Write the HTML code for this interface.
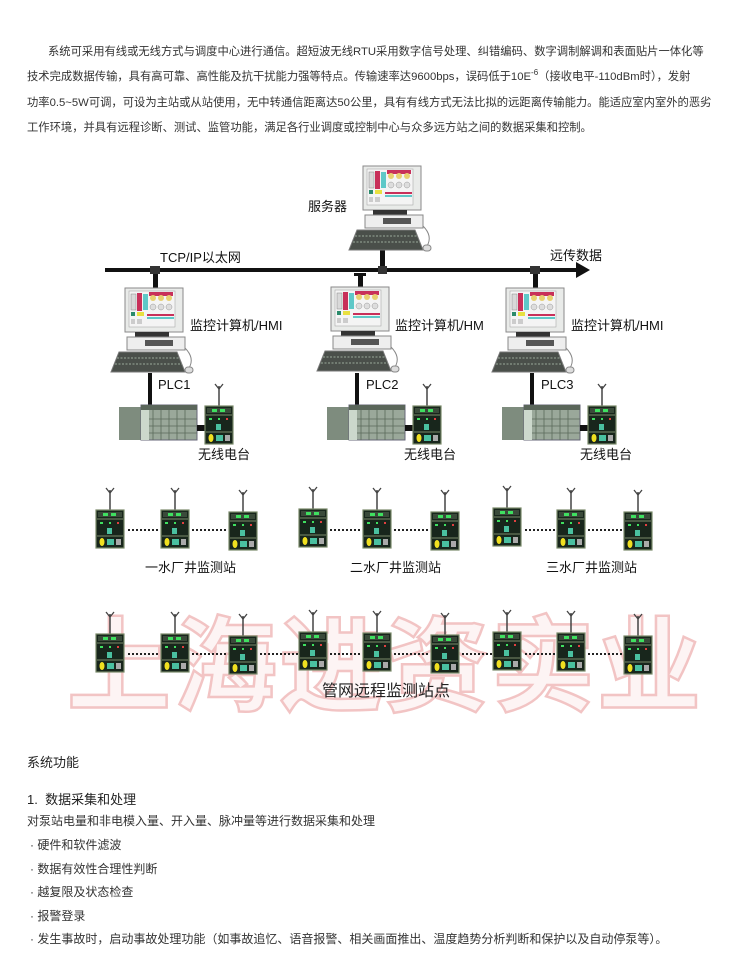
<!DOCTYPE html>
<html><head><meta charset="utf-8">
<style>
body{margin:0;background:#fff;}
#p{position:relative;width:750px;height:975px;overflow:hidden;font-family:"Liberation Sans","Noto Sans CJK SC",sans-serif;color:#222;}
.t{position:absolute;white-space:nowrap;}
.para{font-size:12px;color:#333;}
.top{font-size:11.3px;color:#333;}
.lab{font-size:13px;color:#111;}
</style></head><body><div id="p">
<svg width="750" height="975" style="position:absolute;left:0;top:0">
<defs>
<symbol id="pc" overflow="visible">
 <rect x="0" y="0" width="58" height="44" fill="#e9ebe9" stroke="#8a8a8a"/>
 <rect x="4" y="3" width="46" height="36" fill="#f4f4f4" stroke="#aaa" stroke-width="0.6"/>
 <rect x="6" y="6" width="5" height="16" fill="#d9d9d9" stroke="#888" stroke-width="0.5"/>
 <rect x="12" y="5" width="5" height="18" fill="#c8305a"/>
 <rect x="18" y="6" width="5" height="16" fill="#5ec8c8"/>
 <rect x="24" y="4" width="24" height="4" fill="#c8305a"/>
 <circle cx="28" cy="10" r="3" fill="#e8d070"/><circle cx="36" cy="10" r="3" fill="#e8d070"/><circle cx="44" cy="10" r="3" fill="#e8d070"/>
 <circle cx="28" cy="19" r="3" fill="#ddd" stroke="#999" stroke-width="0.5"/><circle cx="36" cy="19" r="3" fill="#ddd" stroke="#999" stroke-width="0.5"/><circle cx="44" cy="19" r="3" fill="#ddd" stroke="#999" stroke-width="0.5"/>
 <rect x="6" y="24" width="4" height="4" fill="#2a8a6a"/><rect x="12" y="24" width="7" height="4" fill="#e8e040"/>
 <rect x="22" y="26" width="27" height="2" fill="#c8305a"/><rect x="22" y="29" width="27" height="2" fill="#5ec8c8"/>
 <rect x="6" y="31" width="4" height="5" fill="#ccc"/><rect x="12" y="31" width="5" height="5" fill="#ccc"/>
 <rect x="10" y="44" width="34" height="5" fill="#333"/>
 <rect x="2" y="49" width="58" height="13" fill="#eeeeee" stroke="#888"/>
 <rect x="20" y="52" width="28" height="6" fill="#555"/>
 <polygon points="-6,64 52,64 60,84 -14,84" fill="#4a4f4a" stroke="#777"/>
 <line x1="-8" y1="70" x2="54" y2="70" stroke="#9a9" stroke-dasharray="2 1.5"/>
 <line x1="-10" y1="76" x2="57" y2="76" stroke="#9a9" stroke-dasharray="2 1.5"/>
 <path d="M60 60 Q70 70 64 80" fill="none" stroke="#888"/>
 <rect x="60" y="79" width="8" height="6" rx="3" fill="#ddd" stroke="#888"/>
</symbol>
<symbol id="ru" overflow="visible">
 <line x1="14" y1="-20" x2="14" y2="0" stroke="#444" stroke-width="1.5"/>
 <path d="M10 -22 L14 -17 L18 -22" fill="none" stroke="#444" stroke-width="1.3"/>
 <rect x="0" y="0" width="28" height="38" fill="#18261c" stroke="#7a8a6a" stroke-width="1.2"/>
 <rect x="2" y="2" width="24" height="5" fill="#3a4a3a"/>
 <rect x="7" y="3" width="5" height="3" fill="#3fe060"/><rect x="15" y="3" width="5" height="3" fill="#3fe060"/>
 <line x1="1" y1="9" x2="27" y2="9" stroke="#7a8a6a"/>
 <rect x="4" y="12" width="3" height="2" fill="#3fe060"/><rect x="13" y="12" width="2" height="2" fill="#3fe060"/><rect x="21" y="12" width="2" height="2" fill="#e04040"/>
 <rect x="11" y="18" width="5" height="6" fill="#4ac0a0"/>
 <line x1="1" y1="26" x2="27" y2="26" stroke="#7a8a6a"/>
 <ellipse cx="6" cy="32" rx="2.5" ry="4" fill="#f0e020"/>
 <rect x="11" y="29" width="7" height="6" fill="#4ac0a0"/>
 <rect x="20" y="29" width="5" height="6" fill="#aaa"/>
</symbol>
<symbol id="plc" overflow="visible">
 <rect x="0" y="2" width="22" height="33" fill="#7e8c7e"/>
 <rect x="22" y="0" width="56" height="35" fill="#9aa89a" stroke="#667"/>
 <rect x="22" y="4" width="8" height="31" fill="#ccd8cc"/>
 <g stroke="#5a6a5a" stroke-width="0.8">
 <line x1="34" y1="4" x2="34" y2="35"/><line x1="42" y1="4" x2="42" y2="35"/><line x1="50" y1="4" x2="50" y2="35"/><line x1="58" y1="4" x2="58" y2="35"/><line x1="66" y1="4" x2="66" y2="35"/>
 <line x1="30" y1="14" x2="78" y2="14"/><line x1="30" y1="21" x2="78" y2="21"/><line x1="30" y1="28" x2="78" y2="28"/>
 </g>
 <rect x="22" y="0" width="56" height="5" fill="#5a665a"/>
 <rect x="78" y="20" width="8" height="6" fill="#111"/>
</symbol>
</defs>
<!-- watermark -->
<text x="385" y="703" text-anchor="middle" font-family="Noto Sans CJK SC,sans-serif" font-size="104" font-weight="bold" fill="#fdf4f4" stroke="#f2c4c4" stroke-width="2.5" letter-spacing="2">上海进资实业</text>
<!-- bus -->
<line x1="105" y1="270" x2="578" y2="270" stroke="#111" stroke-width="4"/>
<polygon points="576,262 590,270 576,278" fill="#111"/>
<rect x="380" y="248" width="5" height="22" fill="#111"/>
<rect x="378" y="266" width="9" height="8" fill="#333"/>
<rect x="153" y="270" width="5" height="19" fill="#111"/><rect x="150" y="266" width="10" height="8" fill="#333"/>
<rect x="358" y="273" width="5" height="16" fill="#111"/><rect x="354" y="273" width="12" height="3" fill="#111"/>
<rect x="533" y="270" width="5" height="18" fill="#111"/><rect x="530" y="266" width="10" height="8" fill="#333"/>
<!-- computers -->
<use href="#pc" x="363" y="166"/>
<use href="#pc" x="125" y="288"/>
<use href="#pc" x="331" y="287"/>
<use href="#pc" x="506" y="288"/>
<!-- plc lines -->
<rect x="148" y="373" width="4" height="35" fill="#111"/>
<rect x="355" y="373" width="4" height="35" fill="#111"/>
<rect x="530" y="373" width="4" height="35" fill="#111"/>
<use href="#plc" x="119" y="405"/>
<use href="#plc" x="327" y="405"/>
<use href="#plc" x="502" y="405"/>
<use href="#ru" x="205" y="406"/>
<use href="#ru" x="413" y="406"/>
<use href="#ru" x="588" y="406"/>
<!-- rows -->
<g stroke="#222" stroke-width="2" stroke-dasharray="2 2">
<line x1="128" y1="530" x2="160" y2="530"/><line x1="192" y1="530" x2="228" y2="530"/>
<line x1="330" y1="530" x2="362" y2="530"/><line x1="394" y1="530" x2="430" y2="530"/>
<line x1="525" y1="530" x2="556" y2="530"/><line x1="588" y1="530" x2="624" y2="530"/>
<line x1="128" y1="654" x2="160" y2="654"/><line x1="192" y1="654" x2="228" y2="654"/><line x1="260" y1="654" x2="298" y2="654"/>
<line x1="330" y1="654" x2="362" y2="654"/><line x1="394" y1="654" x2="430" y2="654"/><line x1="462" y1="654" x2="493" y2="654"/>
<line x1="525" y1="654" x2="556" y2="654"/><line x1="588" y1="654" x2="624" y2="654"/>
</g>
<use href="#ru" x="96" y="510"/><use href="#ru" x="161" y="510"/><use href="#ru" x="229" y="512"/>
<use href="#ru" x="299" y="509"/><use href="#ru" x="363" y="510"/><use href="#ru" x="431" y="512"/>
<use href="#ru" x="493" y="508"/><use href="#ru" x="557" y="510"/><use href="#ru" x="624" y="512"/>
<use href="#ru" x="96" y="634"/><use href="#ru" x="161" y="634"/><use href="#ru" x="229" y="636"/>
<use href="#ru" x="299" y="632"/><use href="#ru" x="363" y="633"/><use href="#ru" x="431" y="635"/>
<use href="#ru" x="493" y="632"/><use href="#ru" x="557" y="633"/><use href="#ru" x="624" y="636"/>
</svg>

<div class="t top" style="left:48px;top:43px">系统可采用有线或无线方式与调度中心进行通信。超短波无线RTU采用数字信号处理、纠错编码、数字调制解调和表面贴片一体化等</div>
<div class="t top" style="left:27px;top:68px">技术完成数据传输，具有高可靠、高性能及抗干扰能力强等特点。传输速率达9600bps，误码低于10E<sup style="font-size:8px">-6</sup>（接收电平-110dBm时），发射</div>
<div class="t top" style="left:27px;top:94px">功率0.5~5W可调，可设为主站或从站使用，无中转通信距离达50公里，具有有线方式无法比拟的远距离传输能力。能适应室内室外的恶劣</div>
<div class="t top" style="left:27px;top:119px">工作环境，并具有远程诊断、测试、监管功能，满足各行业调度或控制中心与众多远方站之间的数据采集和控制。</div>

<div class="t lab" style="left:308px;top:196px">服务器</div>
<div class="t lab" style="left:160px;top:247px">TCP/IP以太网</div>
<div class="t lab" style="left:550px;top:245px">远传数据</div>
<div class="t lab" style="left:190px;top:315px">监控计算机/HMI</div>
<div class="t lab" style="left:395px;top:315px">监控计算机/HM</div>
<div class="t lab" style="left:571px;top:315px">监控计算机/HMI</div>
<div class="t lab" style="left:158px;top:377px">PLC1</div>
<div class="t lab" style="left:366px;top:377px">PLC2</div>
<div class="t lab" style="left:541px;top:377px">PLC3</div>
<div class="t lab" style="left:198px;top:444px">无线电台</div>
<div class="t lab" style="left:404px;top:444px">无线电台</div>
<div class="t lab" style="left:580px;top:444px">无线电台</div>
<div class="t lab" style="left:145px;top:557px">一水厂井监测站</div>
<div class="t lab" style="left:350px;top:557px">二水厂井监测站</div>
<div class="t lab" style="left:546px;top:557px">三水厂井监测站</div>
<div class="t" style="left:322px;top:677px;font-size:16px">管网远程监测站点</div>

<div class="t" style="left:27px;top:752px;font-size:13px">系统功能</div>
<div class="t" style="left:27px;top:789px;font-size:13px">1.&nbsp; 数据采集和处理</div>
<div class="t para" style="left:27px;top:812px">对泵站电量和非电模入量、开入量、脉冲量等进行数据采集和处理</div>
<div class="t para" style="left:30px;top:836px">· 硬件和软件滤波</div>
<div class="t para" style="left:30px;top:860px">· 数据有效性合理性判断</div>
<div class="t para" style="left:30px;top:883px">· 越复限及状态检查</div>
<div class="t para" style="left:30px;top:907px">· 报警登录</div>
<div class="t para" style="left:30px;top:930px">· 发生事故时，启动事故处理功能（如事故追忆、语音报警、相关画面推出、温度趋势分析判断和保护以及自动停泵等）。</div>
</div></body></html>
